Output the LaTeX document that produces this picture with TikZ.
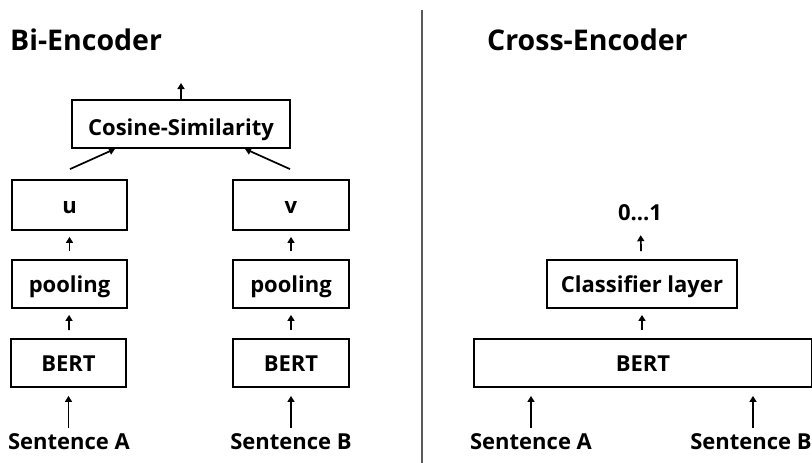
\documentclass[tikz,border=0pt]{standalone}
\usepackage{fontspec}
\setmainfont{Open Sans}[Ligatures=NoCommon]
\usetikzlibrary{arrows.meta,calc}
\begin{document}
\begin{tikzpicture}[x=1pt,y=-1pt,
  box/.style={draw=black,line width=1.8pt,inner sep=0pt,text height=17pt,text depth=0pt,font=\bfseries\fontsize{22}{26}\selectfont},
  lbl/.style={inner sep=0pt,text height=19pt,text depth=3pt,font=\bfseries\fontsize{22}{26}\selectfont},
  ttl/.style={inner sep=0pt,anchor=west,font=\bfseries\fontsize{28.5}{34}\selectfont},
  arr/.style={line width=1.7pt,-{Triangle[length=6pt,width=7pt]}}]
\useasboundingbox (0,0) rectangle (812,463);

% section titles and divider
\node[ttl] (tbi) at (10,40) {Bi-Encoder};
\node[ttl] (tcross) at (487,40) {Cross-Encoder};
\coordinate (divtop) at (422,10);
\coordinate (divbot) at (422,463);
\draw[line width=2pt,black!65] (divtop) -- (divbot);

% Bi-Encoder: two towers
\node[box,text height=22pt,minimum width=218pt,minimum height=48pt] (cos) at (181,124) {Cosine-Similarity};
\node[box,minimum width=115pt,minimum height=50pt] (u) at (69.5,205) {u};
\node[box,minimum width=116pt,minimum height=50pt] (v) at (291,205) {v};
\node[box,minimum width=115pt,minimum height=48pt] (poolA) at (69.5,284) {pooling};
\node[box,minimum width=116pt,minimum height=48pt] (poolB) at (291,284) {pooling};
\node[box,minimum width=115pt,minimum height=48pt] (bertA) at (68.5,363) {BERT};
\node[box,minimum width=116pt,minimum height=48pt] (bertB) at (291,363) {BERT};
\node[lbl] (sA) at (69,441) {Sentence A};
\node[lbl] (sB) at (291,441) {Sentence B};
\coordinate (cosout) at (181,83);

\draw[arr,shorten <=2pt,shorten >=8pt] (sA.north -| bertA) -- (bertA);
\draw[arr,shorten <=2pt,shorten >=8pt] (sB.north -| bertB) -- (bertB);
\draw[arr,shorten <=8pt,shorten >=6pt] (bertA) -- (poolA);
\draw[arr,shorten <=8pt,shorten >=6pt] (bertB) -- (poolB);
\draw[arr,shorten <=8pt,shorten >=6pt] (poolA) -- (u);
\draw[arr,shorten <=8pt,shorten >=6pt] (poolB) -- (v);
\draw[arr] ($(u.north)+(0.5,-10)$) -- ($(cos.south)+(-66,0)$);
\draw[arr] ($(v.north)+(-1,-10)$) -- ($(cos.south)+(64,0)$);
\draw[arr] (cos.north) -- (cosout);

% Cross-Encoder: one joint encoder
\node[box,minimum width=338pt,minimum height=48pt] (bertC) at (643,363) {BERT};
\node[box,minimum width=190pt,minimum height=48pt] (cls) at (642,284) {Classifier layer};
\node[lbl] (out) at (640,212) {0...1};
\node[lbl] (cA) at (531,441) {Sentence A};
\node[lbl] (cB) at (751,441) {Sentence B};

\draw[arr,shorten <=2pt,shorten >=8pt] (cA.north) -- (cA.north |- bertC.south);
\draw[arr,shorten <=2pt,shorten >=8pt] ([xshift=2pt]cB.north) -- ([xshift=2pt]cB.north |- bertC.south);
\draw[arr,shorten <=8pt,shorten >=6pt] (bertC.north -| cls) -- (cls);
\draw[arr,shorten <=8pt,shorten >=12pt] (cls) -- (out);
\end{tikzpicture}
\end{document}
